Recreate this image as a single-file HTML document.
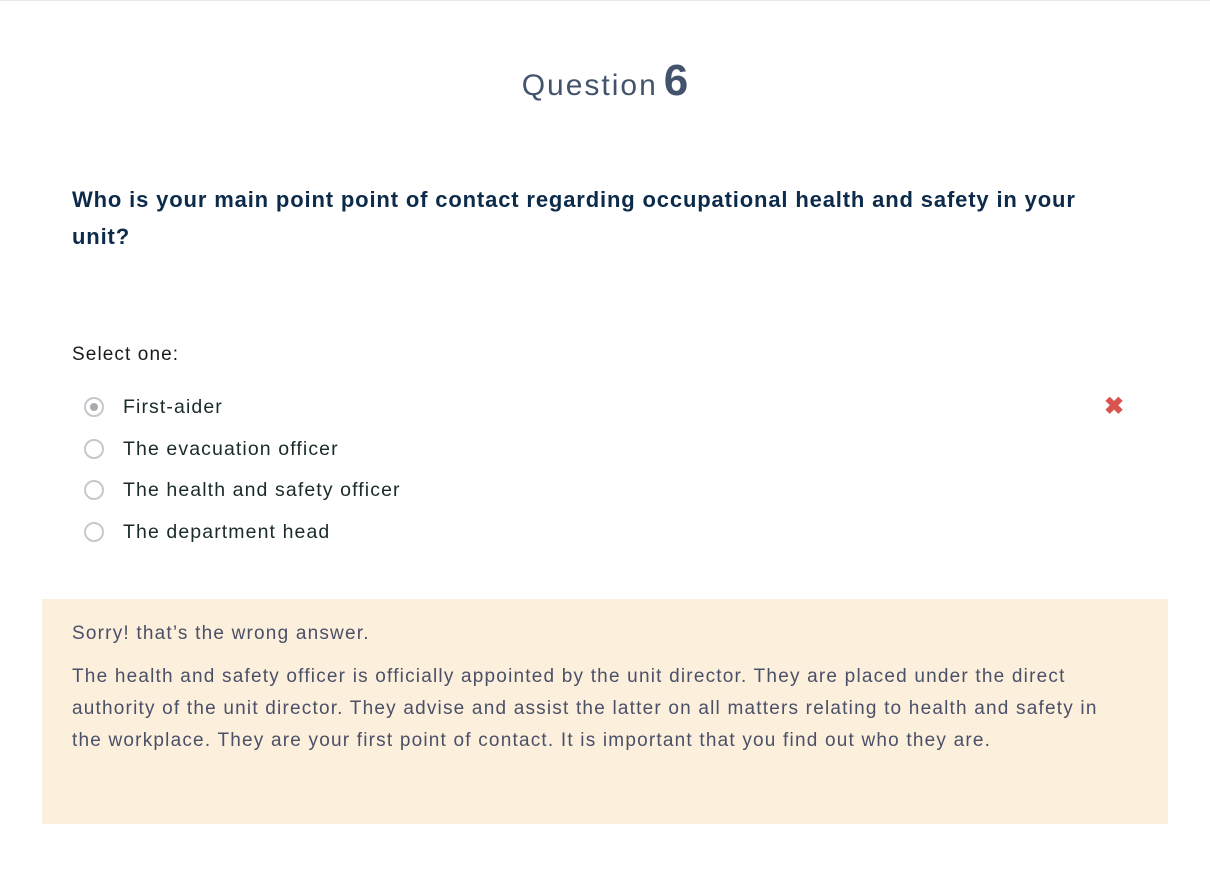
<!DOCTYPE html>
<html><head><meta charset="utf-8"><style>
body{margin:0;width:1210px;height:889px;background:#fff;font-family:"Liberation Sans",sans-serif;position:relative;overflow:hidden}
.topline{position:absolute;left:0;top:0;width:1210px;height:1px;background:#e6e9ec}
.title{position:absolute;top:56px;left:0;width:1210px;text-align:center;color:#44536c;font-size:30px}
.title .w{letter-spacing:2px}
.title b{font-size:44px;margin-left:6px}
.q{position:absolute;left:72px;top:181px;width:1120px;color:#0c2a4a;font-weight:bold;font-size:22px;line-height:37px;letter-spacing:0.85px;white-space:nowrap}
.sel{position:absolute;left:72px;top:344px;font-size:19px;color:#1a1a1a;letter-spacing:1.1px}
.opt{position:absolute;left:84px;font-size:19.5px;color:#1a2a2a;height:22px;line-height:22px}
.opt .r{position:absolute;left:0;top:1px;width:16px;height:16px;border:2px solid #c8c8cc;border-radius:50%;box-sizing:content-box}
.opt .r.on::after{content:"";position:absolute;left:4px;top:4px;width:8px;height:8px;border-radius:50%;background:#a9aab0}
.opt span{position:absolute;left:39px;white-space:nowrap;letter-spacing:1.1px}
.x{position:absolute;left:1104px;top:392px;color:#d9534f;font-size:24px;font-weight:bold}
.fb{position:absolute;left:42px;top:599px;width:1126px;height:225px;background:#fcefdc}
.fb p{margin:0;position:absolute;left:30px;color:#4a5068;font-size:19px;letter-spacing:1.2px}
</style></head><body>
<div class="topline"></div>
<div class="title"><span class="w">Question</span><b>6</b></div>
<div class="q">Who is your main point point of contact regarding occupational health and safety in your<br>unit?</div>
<div class="sel">Select one:</div>
<div class="opt" style="top:396px"><div class="r on"></div><span>First-aider</span></div>
<div class="opt" style="top:438px"><div class="r"></div><span>The evacuation officer</span></div>
<div class="opt" style="top:479px"><div class="r"></div><span>The health and safety officer</span></div>
<div class="opt" style="top:521px"><div class="r"></div><span>The department head</span></div>
<div class="x">✖</div>
<div class="fb">
<p style="top:24px">Sorry! that’s the wrong answer.</p>
<p style="top:62px;width:1050px;line-height:32px">The health and safety officer is officially appointed by the unit director. They are placed under the direct authority of the unit director. They advise and assist the latter on all matters relating to health and safety in the workplace. They are your first point of contact. It is important that you find out who they are.</p>
</div>
</body></html>
